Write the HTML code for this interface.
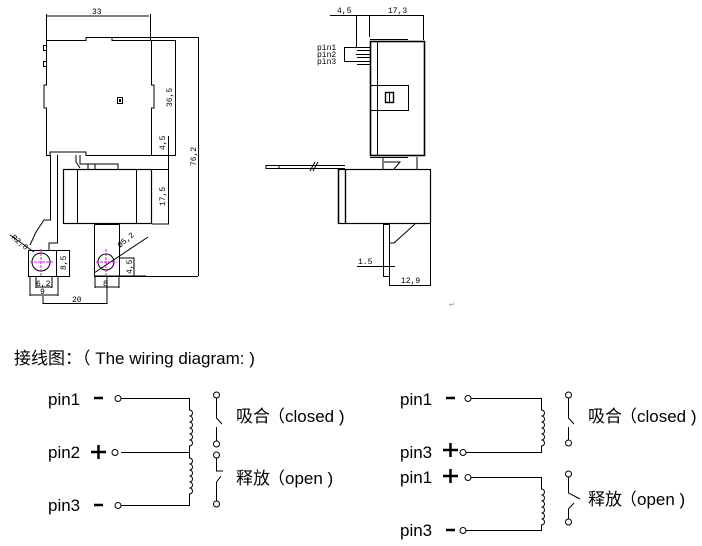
<!DOCTYPE html>
<html><head><meta charset="utf-8"><style>
html,body{margin:0;padding:0;background:#fff;width:702px;height:546px;overflow:hidden}
svg{display:block}
.t{font-family:"Liberation Sans","Noto Sans CJK SC",sans-serif;fill:#000}
.d{font-family:"Liberation Mono",monospace;font-size:8px;fill:#000}
</style></head><body>
<svg width="702" height="546" viewBox="0 0 702 546" xmlns="http://www.w3.org/2000/svg">
<g fill="none" stroke="#000" stroke-width="1">
<line x1="47" y1="16" x2="149" y2="16"/>
<line x1="46.5" y1="14" x2="46.5" y2="40"/><line x1="150.5" y1="14" x2="150.5" y2="40"/>
<path d="M46.5 40.5 H86 V37.5 H112 V40.5 H151.5 V85 H154 V108 H151.5 V155.5 H86 V152 H50 V155.5 H46.5 V108 H44 V85 H46.5 Z"/>
<rect x="43.5" y="45.5" width="3" height="5"/><rect x="43.5" y="61.5" width="3" height="5"/>
<rect x="117.5" y="97.5" width="5" height="6"/><rect x="119.5" y="99.5" width="1" height="2"/>
<line x1="112" y1="37.5" x2="198" y2="37.5"/>
<line x1="151" y1="40.5" x2="176" y2="40.5"/><line x1="175.5" y1="40" x2="175.5" y2="155"/>
<line x1="168.5" y1="136" x2="168.5" y2="224"/>
<line x1="152" y1="155.5" x2="176" y2="155.5"/>
<line x1="198.5" y1="37" x2="198.5" y2="276"/>
<rect x="63.5" y="169.5" width="88" height="54" stroke-width="1.2"/>
<line x1="77.5" y1="169" x2="77.5" y2="224"/><line x1="136.5" y1="169" x2="136.5" y2="224"/>
<line x1="152" y1="169.5" x2="169" y2="169.5"/><line x1="152" y1="224" x2="169" y2="224"/>
<path d="M50.5 155 V220 H44 L36 232 L30 245"/><path d="M57.5 155 V243 H49 V250"/>
<path d="M76 155 V162 L80 168"/><path d="M80 155 V164 H118 V169"/><line x1="88" y1="164" x2="88" y2="169"/><line x1="95" y1="164" x2="95" y2="169"/>
<rect x="28.5" y="250.5" width="28" height="26"/><rect x="56.5" y="250.5" width="13" height="26"/>
<circle cx="41" cy="262" r="9"/>
<rect x="94.5" y="224.5" width="25" height="52"/>
<circle cx="106" cy="262" r="8"/>
<line x1="94" y1="276" x2="146" y2="276"/><line x1="120" y1="276.5" x2="198" y2="276.5"/>
<path d="M120 258 H134 V276"/>
<line x1="10" y1="235" x2="34" y2="252"/><line x1="94" y1="273" x2="148" y2="237"/>
<line x1="30" y1="276" x2="30" y2="296"/><line x1="58" y1="276" x2="58" y2="296"/><line x1="30" y1="295" x2="58" y2="295"/>
<line x1="36" y1="276" x2="36" y2="288"/><line x1="52" y1="276" x2="52" y2="288"/><line x1="36" y1="287" x2="52" y2="287"/>
<line x1="95" y1="276" x2="95" y2="288"/><line x1="119" y1="276" x2="119" y2="288"/><line x1="95" y1="287" x2="119" y2="287"/>
<line x1="43" y1="296" x2="43" y2="304"/><line x1="107" y1="276" x2="107" y2="304"/><line x1="43" y1="303.5" x2="107" y2="303.5"/>
</g>
<g stroke="#f0f" stroke-width="1" stroke-dasharray="3,1">
<line x1="30" y1="262" x2="53" y2="262"/><line x1="41" y1="249" x2="41" y2="276"/>
<line x1="96" y1="262" x2="117" y2="262"/><line x1="106" y1="249" x2="106" y2="276"/>
</g>
<g class="d">
<text x="92" y="14">33</text>
<text transform="translate(172,107) rotate(-90)">36,5</text>
<text transform="translate(165,150) rotate(-90)">4,5</text>
<text transform="translate(165,206) rotate(-90)">17,5</text>
<text transform="translate(196,166) rotate(-90)">76,2</text>
<text transform="translate(66,270) rotate(-90)">8,5</text>
<text transform="translate(132,274) rotate(-90)">4,5</text>
<text x="36" y="286">6,2</text><text x="40" y="294">9</text><text x="103" y="286">8</text>
<text x="72" y="302">20</text>
<text transform="translate(11,238) rotate(40)">R2,6</text>
<text transform="translate(120,248) rotate(-40)">Ø5,2</text>
</g>
<g fill="none" stroke="#000" stroke-width="1">
<line x1="330" y1="15.5" x2="424" y2="15.5"/>
<line x1="356.5" y1="15" x2="356.5" y2="47"/><line x1="369.5" y1="15" x2="369.5" y2="37"/><line x1="423.5" y1="15" x2="423.5" y2="40"/>
<rect x="370.5" y="41.5" width="54" height="114" stroke-width="1.6"/>
<line x1="377.5" y1="41" x2="377.5" y2="155"/>
<line x1="370" y1="39.5" x2="408" y2="39.5"/><line x1="370" y1="157.5" x2="408" y2="157.5"/>
<rect x="370.5" y="85.5" width="38" height="25"/>
<rect x="385.5" y="92.5" width="8" height="10" stroke-width="1.4"/><line x1="389.5" y1="92" x2="389.5" y2="103"/>
<path d="M356 47.5 H370 M357 50.5 H370 M356 54.5 H370 M357 57.5 H370 M356 61.5 H370 M357 64.5 H370"/>
<path d="M344 47.5 H356 M344 61.5 H356 M344.5 47 V62"/>
<rect x="338.5" y="169.5" width="92" height="54" stroke-width="1.2"/>
<line x1="345.5" y1="169" x2="345.5" y2="224" stroke-width="1.4"/>
<line x1="338.5" y1="169" x2="338.5" y2="224" stroke-width="1.4"/>
<path d="M383 157 V169 M417 157 V169 M384 162 H400 L394 169"/>
<path d="M266 165.5 H345 M266 168.5 H345 M266 165 V169 M279 165 V169 M310 171 L315 162 M313 171 L318 162"/>
<rect x="383.5" y="224.5" width="6" height="52"/>
<path d="M389 243 H394 L415 224"/>
<line x1="357" y1="266.5" x2="395" y2="266.5"/>
<line x1="389.5" y1="277" x2="389.5" y2="286"/><line x1="430.5" y1="224" x2="430.5" y2="286"/>
<line x1="389" y1="285.5" x2="431" y2="285.5"/>
</g>
<g class="d">
<text x="337" y="13">4,5</text><text x="388" y="13">17,3</text>
<text x="317" y="50">pin1</text><text x="317" y="57">pin2</text><text x="317" y="64">pin3</text>
<text x="358" y="264">1.5</text><text x="401" y="283">12,9</text>
<text x="449" y="306" fill="#888">↵</text>
</g>
<text class="t" x="14" y="364" font-size="17">接线图：（ The wiring diagram: )</text>
<g class="t" font-size="17">
<text x="48" y="405">pin1</text><text x="48" y="458">pin2</text><text x="48" y="511">pin3</text>
<text x="400" y="405">pin1</text><text x="400" y="458">pin3</text><text x="400" y="483">pin1</text><text x="400" y="536">pin3</text>
</g>
<g class="t" font-size="17">
<text x="236" y="422">吸合<tspan dx="-2">（closed )</tspan></text><text x="236" y="484">释放<tspan dx="-2">（open )</tspan></text>
<text x="588" y="422">吸合<tspan dx="-2">（closed )</tspan></text><text x="588" y="505">释放<tspan dx="-2">（open )</tspan></text>
</g>
<g stroke="#000" fill="none">
<line x1="94" y1="398" x2="103" y2="398" stroke-width="2.5"/>
<path d="M91 452H106M98.5 445V459" stroke-width="2.5"/>
<line x1="94" y1="505" x2="103" y2="505" stroke-width="2.5"/>
<line x1="446" y1="398" x2="455" y2="398" stroke-width="2.5"/>
<path d="M443 450H458M450.5 443V457" stroke-width="2.5"/>
<path d="M443 476H458M450.5 469V483" stroke-width="2.5"/>
<line x1="446" y1="530" x2="455" y2="530" stroke-width="2.5"/>
</g>
<g stroke="#000" fill="#fff" stroke-width="1">
<path fill="none" d="M121 398.5H189.5V410 a3 3 0 0 1 0 6 a3 3 0 0 1 0 6 a3 3 0 0 1 0 6 a3 3 0 0 1 0 6 a3 3 0 0 1 0 6 a3 3 0 0 1 0 6 V452 M121 452.5H189.5V458 a3 3 0 0 1 0 6 a3 3 0 0 1 0 6 a3 3 0 0 1 0 6 a3 3 0 0 1 0 6 a3 3 0 0 1 0 6 a3 3 0 0 1 0 6 V505.5H121"/>
<circle cx="118" cy="398.5" r="3"/><circle cx="115" cy="452.5" r="3"/><circle cx="118" cy="505.5" r="3"/>
<path fill="none" d="M216.5 398V418L222 424M216.5 427V441 M216.5 458V471H223M221 476L216.5 482V501"/>
<circle cx="216.5" cy="395" r="3"/><circle cx="216.5" cy="444" r="3"/><circle cx="216.5" cy="455" r="3"/><circle cx="216.5" cy="504" r="3"/>
<path fill="none" d="M471 398.5H541.5V410 a3 3 0 0 1 0 6 a3 3 0 0 1 0 6 a3 3 0 0 1 0 6 a3 3 0 0 1 0 6 a3 3 0 0 1 0 6 a3 3 0 0 1 0 6 V452.5H466 M471 477.5H541.5V489 a3 3 0 0 1 0 6 a3 3 0 0 1 0 6 a3 3 0 0 1 0 6 a3 3 0 0 1 0 6 a3 3 0 0 1 0 6 a3 3 0 0 1 0 6 V530.5H466"/>
<circle cx="468" cy="398.5" r="3"/><circle cx="463" cy="452.5" r="3"/><circle cx="468" cy="477.5" r="3"/><circle cx="463" cy="530.5" r="3"/>
<path fill="none" d="M568.5 398V418L574 424M568.5 427V440 M568.5 477V493L580 499M574 503L568.5 509V519"/>
<circle cx="568.5" cy="395" r="3"/><circle cx="568.5" cy="443" r="3"/><circle cx="568.5" cy="474" r="3"/><circle cx="568.5" cy="522" r="3"/>
</g>
</svg>
</body></html>
